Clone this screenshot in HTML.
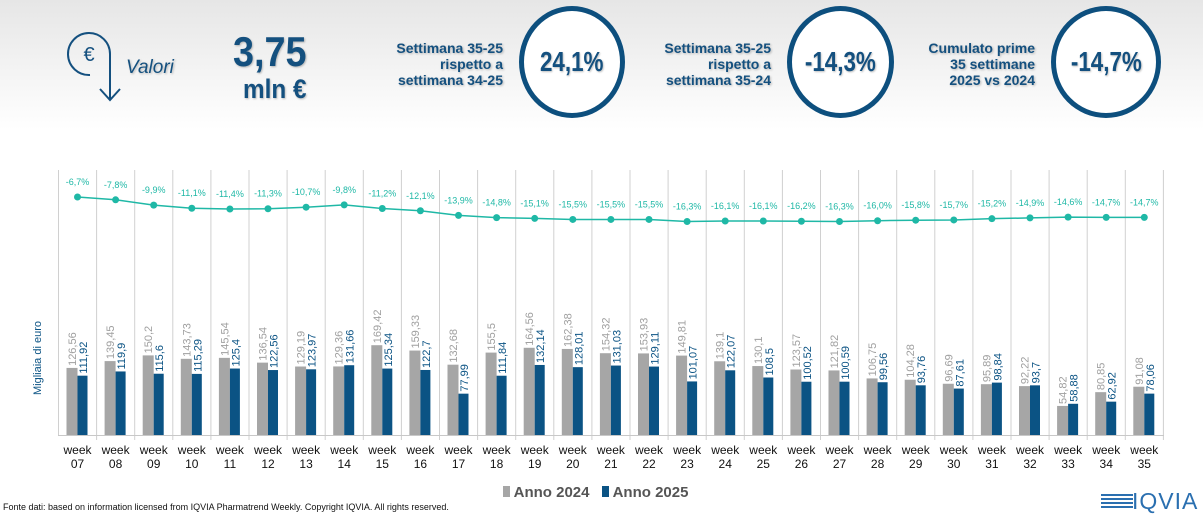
<!DOCTYPE html>
<html><head><meta charset="utf-8">
<style>
html,body{margin:0;padding:0;}
body{width:1203px;height:517px;overflow:hidden;background:linear-gradient(#e6e6e6 0px,#ffffff 130px,#ffffff 517px);font-family:"Liberation Sans",sans-serif;position:relative;}
.t{position:absolute;color:#14507f;font-weight:bold;text-shadow:1px 1px 2px rgba(0,0,0,0.25);}
.c{position:absolute;border:5px solid #0d4f7e;border-radius:50%;background:#fff;box-sizing:border-box;display:flex;align-items:center;justify-content:center;color:#14507f;font-weight:bold;font-size:28px;text-shadow:1px 1px 2px rgba(0,0,0,0.25);}
.c span{display:inline-block;transform:scaleX(0.8);}
.s{font-size:14px;text-align:right;line-height:16px;}
</style></head><body>
<svg style="position:absolute;left:0;top:0" width="200" height="120">
<path d="M90 75 A21 21 0 1 1 110 54 L110 100" fill="none" stroke="#14507f" stroke-width="2"/>
<path d="M100 89 L110 100 L120 89" fill="none" stroke="#14507f" stroke-width="2"/>
<text x="89" y="61" font-size="20" fill="#14507f" text-anchor="middle" font-family="Liberation Sans">€</text>
</svg>
<div class="t" style="left:126px;top:57px;font-size:19px;font-weight:normal;font-style:italic;">Valori</div>
<div class="t" style="left:233px;top:28px;font-size:42px;transform:scaleX(0.9);transform-origin:left;">3,75</div>
<div class="t" style="left:243px;top:74px;font-size:27px;transform:scaleX(0.9);transform-origin:left;">mln €</div>
<div class="t s" style="left:360px;top:40px;width:143px;">Settimana 35-25<br>rispetto a<br>settimana 34-25</div>
<div class="c" style="left:519px;top:6px;width:106px;height:112px;"><span>24,1%</span></div>
<div class="t s" style="left:628px;top:40px;width:143px;">Settimana 35-25<br>rispetto a<br>settimana 35-24</div>
<div class="c" style="left:787px;top:6px;width:107px;height:112px;"><span>-14,3%</span></div>
<div class="t s" style="left:890px;top:40px;width:145px;">Cumulato prime<br>35 settimane<br>2025 vs 2024</div>
<div class="c" style="left:1051px;top:6px;width:110px;height:112px;"><span>-14,7%</span></div>
<svg id="ch" style="position:absolute;left:0;top:0" width="1203" height="517"></svg>
<div style="position:absolute;left:3px;top:502px;font-size:9px;color:#111;">Fonte dati: based on information licensed from IQVIA Pharmatrend Weekly. Copyright IQVIA. All rights reserved.</div>
<div style="position:absolute;left:503px;top:484px;font-size:15px;font-weight:bold;color:#555;"><span style="display:inline-block;width:7px;height:11px;background:#a6a6a6"></span> Anno 2024 &nbsp;&nbsp;<span style="display:inline-block;width:7px;height:11px;background:#0b5384"></span> Anno 2025</div>
<div style="position:absolute;left:1101px;top:492px;width:32px;">
<div style="height:2px;background:#2a6fb0;margin:2px 0;"></div><div style="height:2px;background:#2a6fb0;margin:2px 0;"></div><div style="height:2px;background:#2a6fb0;margin:2px 0;"></div><div style="height:2px;background:#2a6fb0;margin:2px 0;"></div></div>
<div style="position:absolute;left:1132px;top:488px;font-size:23px;color:#2a6fb0;letter-spacing:1px;">IQVIA</div>
<script>
var a=[126.56,139.45,150.2,143.73,145.54,136.54,129.19,129.36,169.42,159.33,132.68,155.5,164.56,162.38,154.32,153.93,149.81,139.1,130.1,123.57,121.82,106.75,104.28,96.69,95.89,92.22,54.82,80.85,91.08];
var b=[111.92,119.9,115.6,115.29,125.4,122.56,123.97,131.66,125.34,122.7,77.99,111.84,132.14,128.01,131.03,129.11,101.07,122.07,108.5,100.52,100.59,99.56,93.76,87.61,98.84,93.7,58.88,62.92,78.06];
var p=[6.7,7.8,9.9,11.1,11.4,11.3,10.7,9.8,11.2,12.1,13.9,14.8,15.1,15.5,15.5,15.5,16.3,16.1,16.1,16.2,16.3,16.0,15.8,15.7,15.2,14.9,14.6,14.7,14.7];
function f(v){return String(v).replace('.',',');}
var s='',base=435,k=0.53,w=38.1,x0=58.5;
for(var i=0;i<=29;i++){var x=x0+i*w;s+='<line x1="'+x+'" y1="170" x2="'+x+'" y2="'+(i==0?435:440)+'" stroke="#d0d0d0"/>';}
s+='<line x1="58" y1="435.5" x2="1164" y2="435.5" stroke="#c8c8c8"/>';
var pts=[];
for(var i=0;i<29;i++){var c=x0+i*w+19;var ha=a[i]*k,hb=b[i]*k;
s+='<rect x="'+(c-11)+'" y="'+(base-ha)+'" width="11" height="'+ha+'" fill="#a6a6a6"/>';
s+='<rect x="'+c+'" y="'+(base-hb)+'" width="10" height="'+hb+'" fill="#0b5384"/>';
var ya=base-ha-2,yb=base-hb-2;
s+='<text transform="translate('+(c-1.5)+','+ya+') rotate(-90)" font-size="11" fill="#a0a0a0">'+f(a[i])+'</text>';
s+='<text transform="translate('+(c+9.5)+','+yb+') rotate(-90)" font-size="11" fill="#0b5384">'+f(b[i])+'</text>';
s+='<text x="'+c+'" y="454" font-size="12" fill="#111" text-anchor="middle">week</text>';
s+='<text x="'+c+'" y="468" font-size="12" fill="#111" text-anchor="middle">'+(i+7<10?'0':'')+(i+7)+'</text>';
var y=197+(p[i]-6.7)*2.55;pts.push(c+','+y);
s+='<text x="'+c+'" y="'+(y-12)+'" font-size="9" fill="#1fb8a6" text-anchor="middle">-'+p[i].toFixed(1).replace('.',',')+'%</text>';
}
s+='<polyline points="'+pts.join(' ')+'" fill="none" stroke="#1fb8a6" stroke-width="1.5"/>';
pts.forEach(function(q){var t=q.split(',');s+='<circle cx="'+t[0]+'" cy="'+t[1]+'" r="3.5" fill="#1fb8a6"/>';});
s+='<text transform="translate(41,395) rotate(-90)" font-size="11" fill="#0b5384">Migliaia di euro</text>';
document.getElementById('ch').innerHTML=s;
</script>
</body></html>
